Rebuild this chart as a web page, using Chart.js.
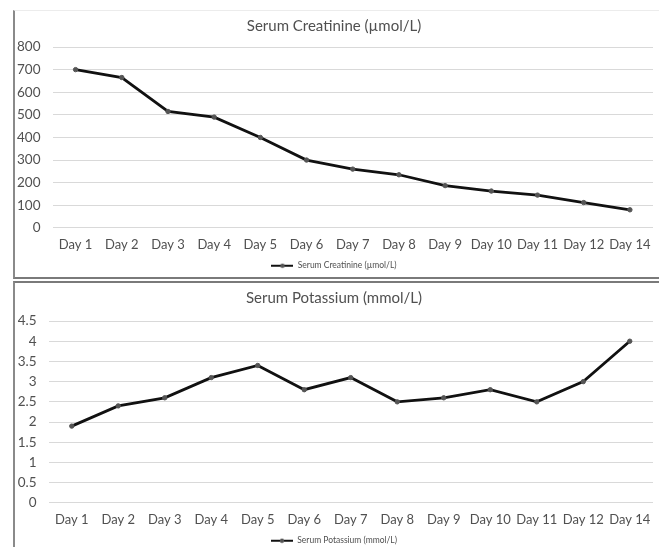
<!DOCTYPE html>
<html>
<head>
<meta charset="utf-8">
<script src="https://cdn.jsdelivr.net/npm/chart.js@4.4.1/dist/chart.umd.min.js"></script>
<style>
  html, body { margin: 0; padding: 0; background: #fff; }
  body { width: 659px; height: 547px; position: relative; overflow: hidden; }
  .box { position: absolute; left: 13px; background: #fff; }
  #boxTop { top: 10px; width: 646px; height: 266px; border-left: 2px solid #8a8a8a; border-top: 1px solid #ececec; border-bottom: 2px solid #7a7a7a; }
  #boxBottom { top: 281px; width: 646px; height: 270px; border-left: 2px solid #8a8a8a; border-top: 2px solid #7a7a7a; }
  canvas { position: absolute; left: 0; top: 0; }
</style>
</head>
<body>
<div class="box" id="boxTop"><canvas id="creat" width="644" height="265"></canvas></div>
<div class="box" id="boxBottom"><canvas id="potas" width="644" height="264"></canvas></div>
<script>
// Daily lab results
const days = ['Day 1', 'Day 2', 'Day 3', 'Day 4', 'Day 5', 'Day 6', 'Day 7', 'Day 8', 'Day 9', 'Day 10', 'Day 11', 'Day 12', 'Day 14'];
const creatinine = [700, 665, 515, 490, 400, 300, 260, 235, 187, 163, 145, 112, 80];
const potassium = [1.9, 2.4, 2.6, 3.1, 3.4, 2.8, 3.1, 2.5, 2.6, 2.8, 2.5, 3.0, 4.0];

const creatTitle = 'Serum Creatinine (µmol/L)';
const potasTitle = 'Serum Potassium (mmol/L)';

const FONT = 'Lato, "Open Sans", sans-serif';
const TEXT = '#505050';

// legend marker: short line with a dot in the middle
function legendMarker() {
  const c = document.createElement('canvas');
  c.width = 22; c.height = 6;
  const g = c.getContext('2d');
  g.strokeStyle = '#111'; g.lineWidth = 2;
  g.beginPath(); g.moveTo(0, 3); g.lineTo(22, 3); g.stroke();
  g.fillStyle = '#555';
  g.beginPath(); g.arc(11, 3, 2.2, 0, Math.PI * 2); g.fill();
  return c;
}

function buildChart(id, title, values, max, step, layout) {
  return new Chart(document.getElementById(id), {
    type: 'line',
    data: {
      labels: days,
      datasets: [{
        label: title,
        data: values,
        borderColor: '#111',
        borderWidth: 2.8,
        pointRadius: 2.2,
        pointBackgroundColor: '#555',
        pointBorderColor: '#555',
        pointBorderWidth: 1,
        tension: 0
      }]
    },
    options: {
      responsive: false,
      animation: false,
      layout: { padding: { left: 0, right: 6, top: 0, bottom: layout.bottom } },
      plugins: {
        title: {
          display: true, text: title, color: TEXT,
          font: { family: FONT, size: 15, weight: 'normal' },
          padding: { top: 6, bottom: layout.titleGap }
        },
        legend: {
          position: 'bottom',
          labels: {
            color: TEXT, font: { family: FONT, size: 8.5 },
            usePointStyle: true, pointStyle: legendMarker(), pointStyleWidth: 22,
            padding: 1, boxHeight: 6
          }
        },
        tooltip: { enabled: false }
      },
      scales: {
        x: {
          offset: true,
          grid: { display: false },
          border: { display: false },
          ticks: { color: TEXT, font: { family: FONT, size: 13 }, padding: 1, maxRotation: 0, autoSkip: false },
          afterFit: (s) => { s.height += 7; }
        },
        y: {
          min: 0, max: max,
          grid: { color: '#d9d9d9', lineWidth: 1, drawTicks: false },
          border: { display: false },
          ticks: {
            stepSize: step, autoSkip: false, color: TEXT,
            font: { family: FONT, size: 13.5 }, padding: 12,
            callback: (v) => String(Math.round(v * 10) / 10)
          },
          afterFit: (s) => { s.width = layout.yWidth; }
        }
      }
    }
  });
}

buildChart('creat', creatTitle, creatinine, 800, 100, { yWidth: 37.5, titleGap: 12, bottom: -4 });
buildChart('potas', potasTitle, potassium, 4.5, 0.5, { yWidth: 33.5, titleGap: 14, bottom: -8 });
</script>
</body>
</html>
